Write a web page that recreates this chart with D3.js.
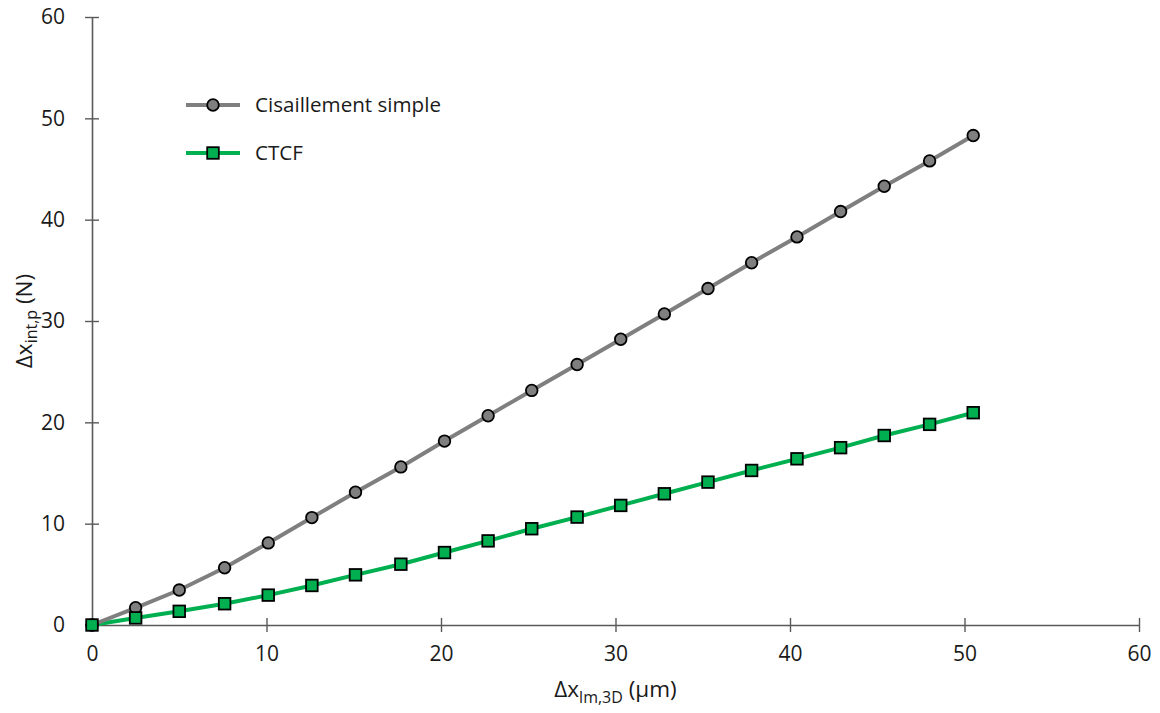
<!DOCTYPE html>
<html>
<head>
<meta charset="utf-8">
<script src="https://cdn.jsdelivr.net/npm/d3@7"></script>
<style>
  html, body { margin: 0; padding: 0; background: #fff; }
  svg { display: block; }
  text { font-family: "Open Sans", Lato, sans-serif; fill: #1a1a1a; }
</style>
</head>
<body>
<svg id="chart" width="1160" height="713"></svg>
<script>
// ---- data ----
const xValues = [0, 2.5, 5.0, 7.6, 10.1, 12.6, 15.1, 17.7, 20.2, 22.7, 25.2, 27.8, 30.3, 32.8, 35.3, 37.8, 40.4, 42.9, 45.4, 48.0, 50.5];
const cisaillement = [0, 1.7, 3.45, 5.65, 8.1, 10.6, 13.1, 15.6, 18.15, 20.65, 23.15, 25.7, 28.2, 30.7, 33.2, 35.75, 38.3, 40.8, 43.3, 45.8, 48.3];
const ctcf = [0, 0.7, 1.35, 2.1, 2.95, 3.9, 4.95, 6.0, 7.15, 8.3, 9.5, 10.65, 11.8, 12.95, 14.1, 15.25, 16.4, 17.5, 18.7, 19.8, 20.95];
const seriesNames = ["Cisaillement simple", "CTCF"];
const xTicks = [0, 10, 20, 30, 40, 50, 60];
const yTicks = [0, 10, 20, 30, 40, 50, 60];

const svg = d3.select("#chart");
const margin = { left: 92, right: 21, top: 17, bottom: 88 };
const W = 1160, H = 713;
const FONT = "'Open Sans', Lato, sans-serif";

const x = d3.scaleLinear().domain([0, 60]).range([margin.left, W - margin.right]);
const y = d3.scaleLinear().domain([0, 60]).range([H - margin.bottom, margin.top]);

const axisColor = "#595959";

// x axis
const gx = svg.append("g").attr("transform", `translate(0,${y(0)})`)
  .call(d3.axisBottom(x).tickValues(xTicks).tickSize(7).tickPadding(14).tickSizeOuter(0));
gx.selectAll(".tick line").attr("y1", -7).attr("y2", 7);
// y axis
const gy = svg.append("g").attr("transform", `translate(${x(0)},0)`)
  .call(d3.axisLeft(y).tickValues(yTicks).tickSize(7).tickPadding(20).tickSizeOuter(0));
gy.selectAll(".tick line").attr("x1", -7).attr("x2", 7);

[gx, gy].forEach(g => {
  g.select(".domain").attr("stroke", axisColor).attr("stroke-width", 1.6);
  g.selectAll(".tick line").attr("stroke", axisColor).attr("stroke-width", 1.4);
  g.selectAll(".tick text").style("font-family", FONT)
    .style("font-size", "21px").attr("fill", "#1a1a1a");
});
gx.selectAll(".tick text").attr("dy", "0.71em");

// series
const gray = "#7f7f7f", green = "#00b050";
const line = d3.line().x(d => x(d[0])).y(d => y(d[1]));
const dataA = xValues.map((v, i) => [v, cisaillement[i]]);
const dataB = xValues.map((v, i) => [v, ctcf[i]]);

svg.append("path").datum(dataB).attr("d", line)
  .attr("fill", "none").attr("stroke", green).attr("stroke-width", 4);
svg.append("path").datum(dataA).attr("d", line)
  .attr("fill", "none").attr("stroke", gray).attr("stroke-width", 4);

svg.append("g").selectAll("circle").data(dataA).join("circle")
  .attr("cx", d => x(d[0])).attr("cy", d => y(d[1])).attr("r", 5.8)
  .attr("fill", gray).attr("stroke", "#000").attr("stroke-width", 1.8);

svg.append("g").selectAll("rect").data(dataB).join("rect")
  .attr("x", d => x(d[0]) - 5.8).attr("y", d => y(d[1]) - 5.8)
  .attr("width", 11.6).attr("height", 11.6)
  .attr("fill", green).attr("stroke", "#000").attr("stroke-width", 1.8);

// legend
const legend = svg.append("g");
const legItems = [
  { name: seriesNames[0], color: gray, shape: "circle", yy: 105 },
  { name: seriesNames[1], color: green, shape: "rect", yy: 153 }
];
legItems.forEach(it => {
  legend.append("line").attr("x1", 186).attr("x2", 240).attr("y1", it.yy).attr("y2", it.yy)
    .attr("stroke", it.color).attr("stroke-width", 4);
  if (it.shape === "circle") {
    legend.append("circle").attr("cx", 213).attr("cy", it.yy).attr("r", 5.8)
      .attr("fill", it.color).attr("stroke", "#000").attr("stroke-width", 1.8);
  } else {
    legend.append("rect").attr("x", 213 - 5.8).attr("y", it.yy - 5.8).attr("width", 11.6).attr("height", 11.6)
      .attr("fill", it.color).attr("stroke", "#000").attr("stroke-width", 1.8);
  }
  legend.append("text").attr("x", 255).attr("y", it.yy).attr("dy", "0.36em")
    .style("font-size", "20.6px").text(it.name);
});

// axis titles
const xt = svg.append("text").attr("x", (x(0) + x(60)) / 2).attr("y", 697)
  .attr("text-anchor", "middle").style("font-size", "22.5px");
xt.append("tspan").text("Δx");
xt.append("tspan").attr("dy", 6).style("font-size", "16px").text("lm,3D");
xt.append("tspan").attr("dy", -6).text(" (μm)");

const yt = svg.append("text")
  .attr("transform", `translate(32,${(y(0) + y(60)) / 2}) rotate(-90)`)
  .attr("text-anchor", "middle").style("font-size", "22.5px");
yt.append("tspan").text("Δx");
yt.append("tspan").attr("dy", 5).style("font-size", "16px").text("int,p");
yt.append("tspan").attr("dy", -5).text(" (N)");
</script>
</body>
</html>
